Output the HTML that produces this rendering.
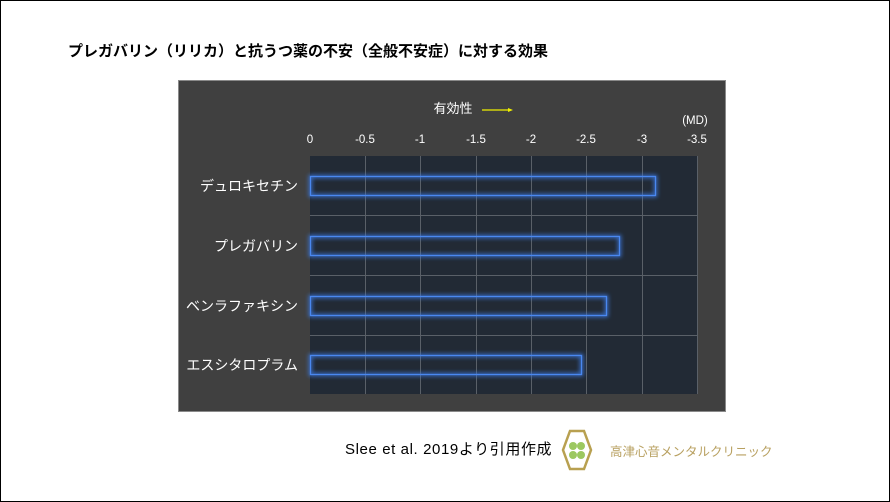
<!DOCTYPE html>
<html><head><meta charset="utf-8"><style>
body{margin:0;width:890px;height:502px;background:#fff;position:relative;overflow:hidden;font-family:"Liberation Sans","Noto Sans CJK JP",sans-serif}
.frame{position:absolute;left:0;top:0;width:888px;height:500px;border:1px solid #000}
.t{position:absolute;white-space:nowrap}
</style></head><body>
<div class="frame"></div>
<div class="t" style="left:68px;top:40px;font-size:15px;font-weight:bold;color:#000">プレガバリン（リリカ）と抗うつ薬の不安（全般不安症）に対する効果</div>
<svg style="position:absolute;left:0;top:0" width="890" height="502">
<defs><filter id="g" x="-10%" y="-50%" width="120%" height="200%"><feGaussianBlur stdDeviation="2"/></filter></defs>
<rect x="178.5" y="80.5" width="547" height="331" fill="#404040" stroke="#8a8a8a"/>
<rect x="310" y="156" width="387" height="238" fill="#222a35"/>
<g stroke="#5a6068" stroke-width="1">
<line x1="365.5" y1="156" x2="365.5" y2="394"/><line x1="420.5" y1="156" x2="420.5" y2="394"/>
<line x1="476.5" y1="156" x2="476.5" y2="394"/><line x1="531.5" y1="156" x2="531.5" y2="394"/>
<line x1="586.5" y1="156" x2="586.5" y2="394"/><line x1="642.5" y1="156" x2="642.5" y2="394"/>
<line x1="697.5" y1="156" x2="697.5" y2="394"/>
<line x1="310" y1="215.5" x2="697" y2="215.5"/><line x1="310" y1="275.5" x2="697" y2="275.5"/><line x1="310" y1="335.5" x2="697" y2="335.5"/>
</g>
<g fill="none" stroke="#3a78e0" stroke-width="3" filter="url(#g)">
<rect x="310.5" y="176.5" width="345" height="19"/><rect x="310.5" y="236.5" width="309" height="19"/>
<rect x="310.5" y="296.5" width="296" height="19"/><rect x="310.5" y="355.5" width="271" height="19"/>
</g>
<g fill="none" stroke="#4a88f0" stroke-width="1.3">
<rect x="310.5" y="176.5" width="345" height="19"/><rect x="310.5" y="236.5" width="309" height="19"/>
<rect x="310.5" y="296.5" width="296" height="19"/><rect x="310.5" y="355.5" width="271" height="19"/>
</g>
<line x1="482" y1="110" x2="508" y2="110" stroke="#f0f000" stroke-width="1.2"/>
<polygon points="508,108 513,110 508,112" fill="#f0f000"/>
<g fill="#fff" font-size="11.5" text-anchor="middle" font-family="Liberation Sans, sans-serif">
<text x="310" y="143">0</text><text x="365" y="143">-0.5</text><text x="420" y="143">-1</text>
<text x="476" y="143">-1.5</text><text x="531" y="143">-2</text><text x="586" y="143">-2.5</text>
<text x="642" y="143">-3</text><text x="697" y="143">-3.5</text>
<text x="695" y="124">(MD)</text>
</g>
<g fill="#fff" font-size="14" text-anchor="end" font-family="Liberation Sans, Noto Sans CJK JP, sans-serif">
<text x="298" y="191">デュロキセチン</text><text x="298" y="251">プレガバリン</text>
<text x="298" y="311">ベンラファキシン</text><text x="298" y="370">エスシタロプラム</text>
</g>
<text x="453" y="113" fill="#fff" font-size="13" text-anchor="middle" font-family="Liberation Sans, Noto Sans CJK JP, sans-serif">有効性</text>
<polygon points="570,431 584,431 591,450 584,469 570,469 563,450" fill="#fff" stroke="#b8a050" stroke-width="2.5"/>
<circle cx="573" cy="446" r="4" fill="#9cc860"/><circle cx="581" cy="446" r="4" fill="#9cc860"/>
<circle cx="573" cy="455" r="4" fill="#9cc860"/><circle cx="581" cy="455" r="4" fill="#9cc860"/>
</svg>
<div class="t" style="left:345px;top:438px;font-size:15px;letter-spacing:0.6px;color:#000">Slee et al. 2019より引用作成</div>
<div class="t" style="left:610px;top:441px;font-size:12.5px;color:#b8a060">高津心音メンタルクリニック</div>
</body></html>
